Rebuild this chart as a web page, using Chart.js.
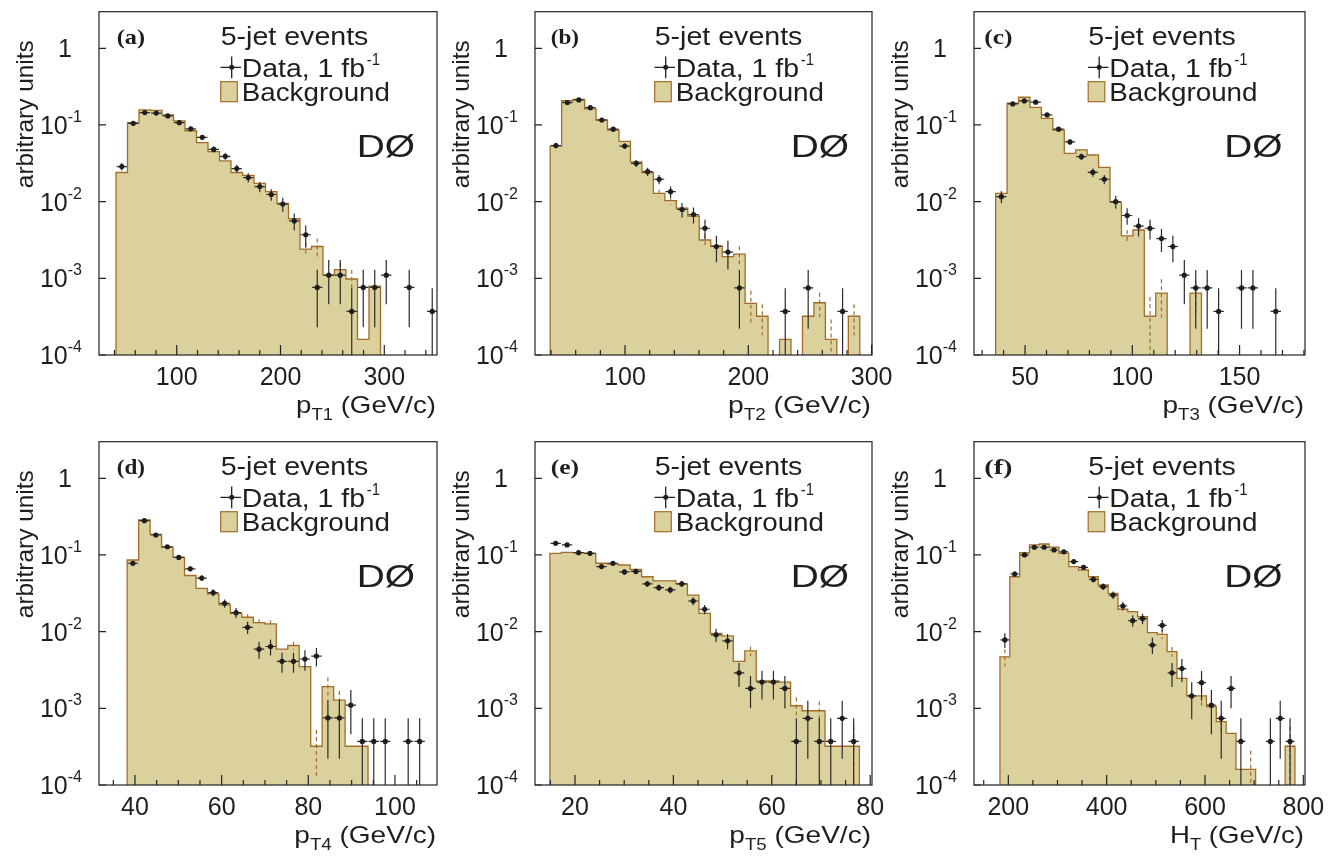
<!DOCTYPE html>
<html><head><meta charset="utf-8">
<script src="https://cdn.jsdelivr.net/npm/chart.js@4.4.1/dist/chart.umd.min.js"></script>
<style>
html,body{margin:0;padding:0;background:#fff;}
#wrap{position:relative;width:1340px;height:857px;overflow:hidden;}
#wrap canvas{position:absolute;left:0;top:0;}
</style></head>
<body><div id="wrap"></div>
<script>
// ---------------- DATA ----------------
const yTickValues = [1e-4, 1e-3, 1e-2, 1e-1, 1];
const yTickExponents = ["-4", "-3", "-2", "-1", ""];
const legendTitle = "5-jet events";
const legendData = "Data, 1 fb";
const legendDataSup = "-1";
const legendBackground = "Background";
const experimentLabel = "DØ";
const yAxisTitle = "arbitrary units";

// (a) leading jet pT
const aBinLo = 41.5, aBinW = 11.08;
const aBackground = [0.024,0.107,0.157,0.155,0.135,0.113,0.084,0.059,0.045,0.034,0.024,0.022,0.0173,0.0135,0.0095,0.0060,0.0024,0.0026,0.0011,0.0013,0.00098,0.00016,0.00079,0,0,0,0,0];
const aBackgroundErr = [null,null,null,null,null,null,null,null,null,null,null,null,null,null,null,null,0.0005,0.0007,null,0.0003,0.0003,null,null,null,null,null,null,null];
const aData = [0.0287,0.105,0.145,0.143,0.131,0.107,0.089,0.069,0.048,0.039,0.027,0.0206,0.0157,0.0124,0.0093,0.0056,0.0037,0.00076,0.0011,0.0011,0.00037,0.00076,0.00076,0.0011,null,0.00076,null,0.00037];
const aDataErr = [0.0033,0.0062,0.0073,0.0073,0.007,0.0063,0.0057,0.0051,0.0042,0.0038,0.0032,0.0028,0.0024,0.0021,0.0019,0.0014,0.0012,0.00053,0.00064,0.00064,0.00037,0.00053,0.00053,0.00064,null,0.00053,null,0.00037];
const aMajorTicks = [100,200,300];
const aMinorTicks = [40,60,80,120,140,160,180,220,240,260,280,320,340];

// (b) second jet pT
const bBinLo = 39.3, bBinW = 9.3;
const bBackground = [0.053,0.207,0.216,0.162,0.116,0.086,0.061,0.033,0.0239,0.0128,0.0103,0.0082,0.0065,0.00316,0.00264,0.00192,0.00207,0.00047,0.00032,0,0.00016,0,0.00032,0.00048,0.00016,0,0.00032,0];
const bBackgroundErr = [null,null,null,null,null,null,null,null,null,0.0015,0.0012,null,null,0.0006,null,null,0.00055,0.00022,0.00014,null,null,null,null,0.00017,0.00013,null,0.00014,null];
const bData = [0.054,0.196,0.212,0.168,0.116,0.088,0.053,0.0316,0.0246,0.0196,0.0135,0.0079,0.0068,0.0045,0.0026,0.0022,0.00075,null,null,null,0.00037,null,0.00075,null,null,0.00037,null,null];
const bDataErr = [0.0045,0.0085,0.0089,0.0079,0.0066,0.0057,0.0044,0.0034,0.003,0.0027,0.0022,0.0017,0.0016,0.0013,0.00098,0.0009,0.00053,null,null,null,0.00037,null,0.00053,null,null,0.00037,null,null];
const bMajorTicks = [100,200,300];
const bMinorTicks = [40,60,80,120,140,160,180,220,240,260,280];

// (c) third jet pT
const cBinLo = 36.3, cBinW = 5.33;
const cBackground = [0.0128,0.192,0.230,0.170,0.122,0.086,0.0427,0.0472,0.0406,0.028,0.0098,0.00357,0.00427,0.00032,0.00064,0,0,0.00064,0,0,0,0,0,0,0,0,0];
const cBackgroundErr = [null,null,null,null,null,null,null,null,null,null,null,0.0007,null,0.00025,0.00033,null,null,0.0003,null,null,null,null,null,null,null,null,null];
const cData = [0.0116,0.188,0.206,0.198,0.135,0.088,0.060,0.0386,0.0241,0.0196,0.0100,0.0066,0.0048,0.0045,0.0033,0.0026,0.0011,0.00075,0.00075,0.00037,null,0.00075,0.00075,null,0.00037,null,null];
const cDataErr = [0.0021,0.0084,0.0087,0.0086,0.0071,0.0057,0.0047,0.0038,0.003,0.0027,0.0019,0.0016,0.0013,0.0013,0.0011,0.00098,0.00064,0.00053,0.00053,0.00037,null,0.00053,0.00053,null,0.00037,null,null];
const cMajorTicks = [50,100,150];
const cMinorTicks = [30,40,60,70,80,90,110,120,130,140,160,170,180];

// (d) fourth jet pT
const dBinLo = 38.2, dBinW = 2.647;
const dBackground = [0.086,0.286,0.186,0.126,0.093,0.054,0.0367,0.031,0.0223,0.0173,0.0154,0.0131,0.0126,0.0059,0.0066,0.0035,0.00032,0.00192,0.00128,0.00032,0.00032,0,0,0,0,0,0];
const dBackgroundErr = [null,null,null,null,null,null,null,null,null,null,0.0015,0.0014,0.0014,null,0.0008,null,0.0002,0.0006,0.0004,null,null,null,null,null,null,null,null];
const dData = [0.078,0.280,0.182,0.128,0.093,0.066,0.050,0.0323,0.0234,0.0177,0.0114,0.0059,0.0064,0.0041,0.0041,0.0044,0.0048,0.00075,0.00075,0.0011,0.00037,0.00037,0.00037,null,0.00037,0.00037,null];
const dDataErr = [0.0054,0.0102,0.0082,0.0069,0.0059,0.0049,0.0043,0.0035,0.0029,0.0026,0.0021,0.0015,0.0015,0.0012,0.0012,0.0013,0.0013,0.00053,0.00053,0.00064,0.00037,0.00037,0.00037,null,0.00037,0.00037,null];
const dMajorTicks = [40,60,80,100];
const dMinorTicks = [35,45,50,55,65,70,75,85,90,95,105];

// (e) fifth jet pT
const eBinLo = 14.9, eBinW = 2.33;
const eBackground = [0.105,0.108,0.107,0.105,0.078,0.076,0.074,0.065,0.052,0.046,0.046,0.042,0.030,0.0173,0.0095,0.0088,0.0041,0.0056,0.00227,0.00227,0.0022,0.00108,0.00093,0.00093,0.00032,0.00032,0.00032,0];
const eBackgroundErr = [null,null,null,null,null,null,null,null,null,null,null,null,null,null,null,null,null,0.0008,null,null,null,0.0003,null,0.0003,null,null,0.00025,null];
const eData = [0.142,0.135,0.107,0.105,0.0705,0.078,0.060,0.061,0.042,0.0375,0.035,0.042,0.0251,0.0196,0.0091,0.0076,0.0029,0.00182,0.0022,0.0022,0.00182,0.00037,0.00074,0.00037,0.00037,0.00074,0.00037,null];
const eDataErr = [0.0073,0.0071,0.0063,0.0062,0.0051,0.0054,0.0047,0.0048,0.0039,0.0037,0.0036,0.0039,0.003,0.0027,0.0018,0.0017,0.001,0.00082,0.0009,0.0009,0.00082,0.00037,0.00052,0.00037,0.00037,0.00052,0.00037,null];
const eMajorTicks = [20,40,60,80];
const eMinorTicks = [15,25,30,35,45,50,55,65,70,75];

// (f) HT
const fBinLo = 183, fBinW = 20;
const fBackground = [0.0047,0.052,0.107,0.135,0.139,0.126,0.105,0.0705,0.0637,0.052,0.0406,0.0316,0.0196,0.0182,0.0157,0.0097,0.0092,0.0055,0.00246,0.00145,0.00145,0.00105,0.00067,0.00047,0.00016,0.00016,0,0,0,0.00032];
const fBackgroundErr = [0.0012,null,null,null,null,null,null,null,null,null,null,null,null,null,null,null,0.0012,0.0008,null,null,0.0004,null,0.00018,null,null,0.00012,null,null,null,0.00025];
const fData = [0.0078,0.0565,0.100,0.126,0.126,0.116,0.110,0.0819,0.069,0.048,0.0386,0.030,0.0216,0.0139,0.0148,0.0067,0.0121,0.0029,0.0033,0.00145,0.00216,0.0011,0.00074,0.00182,0.00037,null,null,0.00037,0.00074,0.00037];
const fDataErr = [0.0017,0.0046,0.0061,0.0068,0.0068,0.0066,0.0064,0.0055,0.0051,0.0042,0.0038,0.0033,0.0028,0.0023,0.0023,0.0016,0.0021,0.001,0.0011,0.00073,0.0009,0.00064,0.00052,0.00082,0.00037,null,null,0.00037,0.00052,0.00037];
const fMajorTicks = [200,400,600,800];
const fMinorTicks = [150,250,300,350,450,500,550,650,700,750];

// ---------------- LAYOUT / STYLE ----------------
const SANS = '"Liberation Sans", Arial, Helvetica, sans-serif';
const SERIF = '"Liberation Serif", "DejaVu Serif", serif';
const FILL = '#dbd19d';
const EDGE = '#a46c2a';
const INK = '#1e1e1e';

const panels = [
  {tag:'(a)', bg:aBackground, bgErr:aBackgroundErr, data:aData, err:aDataErr, lo:aBinLo, w:aBinW, xMin:25.1, xMax:350.8, major:aMajorTicks, minor:aMinorTicks, xt:['p','T1',' (GeV/c)'], xtW:140, frame:{l:99,r:437,t:11.7,b:355}, dx:0, dy:0},
  {tag:'(b)', bg:bBackground, bgErr:bBackgroundErr, data:bData, err:bDataErr, lo:bBinLo, w:bBinW, xMin:27.0, xMax:300.3, major:bMajorTicks, minor:bMinorTicks, xt:['p','T2',' (GeV/c)'], xtW:143, frame:{l:535,r:872,t:11.7,b:355}, dx:434, dy:0},
  {tag:'(c)', bg:cBackground, bgErr:cBackgroundErr, data:cData, err:cDataErr, lo:cBinLo, w:cBinW, xMin:26.2, xMax:180.5, major:cMajorTicks, minor:cMinorTicks, xt:['p','T3',' (GeV/c)'], xtW:141.6, frame:{l:974,r:1305,t:11.7,b:355}, dx:867.5, dy:0},
  {tag:'(d)', bg:dBackground, bgErr:dBackgroundErr, data:dData, err:dDataErr, lo:dBinLo, w:dBinW, xMin:31.7, xMax:109.7, major:dMajorTicks, minor:dMinorTicks, xt:['p','T4',' (GeV/c)'], xtW:141.7, frame:{l:99,r:437,t:441.7,b:785}, dx:0, dy:430},
  {tag:'(e)', bg:eBackground, bgErr:eBackgroundErr, data:eData, err:eDataErr, lo:eBinLo, w:eBinW, xMin:11.87, xMax:80.37, major:eMajorTicks, minor:eMinorTicks, xt:['p','T5',' (GeV/c)'], xtW:141.7, frame:{l:535,r:872,t:441.7,b:785}, dx:434, dy:430},
  {tag:'(f)', bg:fBackground, bgErr:fBackgroundErr, data:fData, err:fDataErr, lo:fBinLo, w:fBinW, xMin:130.2, xMax:803.4, major:fMajorTicks, minor:fMinorTicks, xt:['H','T',' (GeV/c)'], xtW:134, frame:{l:974,r:1305,t:441.7,b:785}, dx:867.5, dy:430}
];

// draw a run of text parts, optionally stretched horizontally to a target width
function drawParts(ctx, parts, x, y, align, targetW) {
  let total = 0;
  parts.forEach(p => { ctx.font = p.font; p.mw = ctx.measureText(p.t).width; total += p.mw; });
  const sx = targetW ? targetW / total : 1;
  let x0 = x;
  if (align === 'right') x0 = x - total * sx;
  else if (align === 'center') x0 = x - total * sx / 2;
  ctx.save();
  ctx.translate(x0, y);
  ctx.scale(sx, 1);
  ctx.textAlign = 'left';
  ctx.textBaseline = 'alphabetic';
  let cx = 0;
  parts.forEach(p => { ctx.font = p.font; ctx.fillStyle = p.color || INK; ctx.fillText(p.t, cx, p.dy || 0); cx += p.mw; });
  ctx.restore();
}

const errorBarPlugin = {
  id: 'errorBars',
  afterDatasetDraw(chart, args) {
    if (args.index !== 0) return;
    const p = chart.config.options.panel;
    const xs = chart.scales.x, ys = chart.scales.y, ca = chart.chartArea;
    const ctx = chart.ctx;
    ctx.save();
    ctx.beginPath(); ctx.rect(ca.left, ca.top, ca.right - ca.left, ca.bottom - ca.top); ctx.clip();
    // background uncertainty (dashed)
    ctx.strokeStyle = EDGE; ctx.lineWidth = 1.2; ctx.setLineDash([4, 3]);
    p.bg.forEach((v, i) => {
      const e = p.bgErr[i];
      if (!e || !(v > 0)) return;
      const c = p.lo + (i + 0.5) * p.w;
      const px = xs.getPixelForValue(c);
      const top = ys.getPixelForValue(v + e);
      const bot = (v - e) > ys.min * 1.0001 ? ys.getPixelForValue(v - e) : ca.bottom;
      ctx.beginPath(); ctx.moveTo(px, top); ctx.lineTo(px, bot); ctx.stroke();
    });
    ctx.setLineDash([]);
    // data error bars
    ctx.strokeStyle = '#2a2a2a'; ctx.lineWidth = 1.2;
    p.data.forEach((v, i) => {
      if (v == null) return;
      const c = p.lo + (i + 0.5) * p.w;
      const e = p.err[i] || 0;
      const px = xs.getPixelForValue(c), py = ys.getPixelForValue(v);
      const top = ys.getPixelForValue(v + e);
      const bot = (v - e) > ys.min * 1.0001 ? ys.getPixelForValue(v - e) : ca.bottom;
      ctx.beginPath();
      ctx.moveTo(px, top); ctx.lineTo(px, bot);
      ctx.moveTo(xs.getPixelForValue(c - 0.45 * p.w), py); ctx.lineTo(xs.getPixelForValue(c + 0.45 * p.w), py);
      ctx.stroke();
    });
    ctx.restore();
  }
};

const decorPlugin = {
  id: 'decor',
  afterDraw(chart) {
    const p = chart.config.options.panel;
    const xs = chart.scales.x, ys = chart.scales.y, ca = chart.chartArea;
    const ctx = chart.ctx;
    ctx.save();
    // frame
    ctx.strokeStyle = '#222'; ctx.lineWidth = 1.2;
    ctx.strokeRect(ca.left, ca.top, ca.right - ca.left, ca.bottom - ca.top);
    // x ticks (inside)
    ctx.beginPath();
    p.major.forEach(t => { const x = xs.getPixelForValue(t); if (x < ca.left - 0.5 || x > ca.right + 0.5) return; ctx.moveTo(x, ca.bottom); ctx.lineTo(x, ca.bottom - 10); });
    p.minor.forEach(t => { const x = xs.getPixelForValue(t); if (x < ca.left - 0.5 || x > ca.right + 0.5) return; ctx.moveTo(x, ca.bottom); ctx.lineTo(x, ca.bottom - 5); });
    // y ticks (inside, decades)
    yTickValues.forEach(v => { const y = ys.getPixelForValue(v); ctx.moveTo(ca.left, y); ctx.lineTo(ca.left + 7, y); });
    ctx.stroke();
    // x tick labels
    p.major.forEach(t => {
      const x = xs.getPixelForValue(t);
      drawParts(ctx, [{t: String(t), font: '25px ' + SANS}], x, ca.bottom + 30, 'center');
    });
    // y tick labels
    yTickValues.forEach((v, i) => {
      const y = ys.getPixelForValue(v);
      if (yTickExponents[i] === '') {
        drawParts(ctx, [{t: '1', font: '25px ' + SANS}], ca.left - 27, y + 9, 'right');
      } else {
        drawParts(ctx, [{t: '10', font: '25px ' + SANS}, {t: yTickExponents[i], font: '16px ' + SANS, dy: -12}], ca.left - 17, y + 9, 'right');
      }
    });
    // y axis title (rotated)
    ctx.save();
    ctx.translate(ca.left - 66, ca.top + 28.5);
    ctx.rotate(-Math.PI / 2);
    drawParts(ctx, [{t: yAxisTitle, font: '24.5px ' + SANS}], 0, 0, 'right', 148);
    ctx.restore();
    // x axis title
    drawParts(ctx, [{t: p.xt[0], font: '24px ' + SANS}, {t: p.xt[1], font: '16px ' + SANS, dy: 7}, {t: p.xt[2], font: '24px ' + SANS}], ca.right - 1, ca.bottom + 58, 'right', p.xtW);
    // panel tag
    const dx = p.dx, dy = p.dy;
    drawParts(ctx, [{t: p.tag, font: 'bold 22px ' + SERIF}], 116.7 + dx, 43.5 + dy, 'left', 28.3);
    // legend
    drawParts(ctx, [{t: legendTitle, font: '26px ' + SANS}], 220.7 + dx, 45 + dy, 'left', 147.7);
    ctx.strokeStyle = '#222'; ctx.lineWidth = 1.3;
    ctx.beginPath();
    ctx.moveTo(231.7 + dx, 56.5 + dy); ctx.lineTo(231.7 + dx, 78.3 + dy);
    ctx.moveTo(220.5 + dx, 67.3 + dy); ctx.lineTo(241 + dx, 67.3 + dy);
    ctx.stroke();
    ctx.fillStyle = INK; ctx.beginPath(); ctx.arc(231.7 + dx, 67.3 + dy, 2.5, 0, Math.PI * 2); ctx.fill();
    drawParts(ctx, [{t: legendData, font: '26px ' + SANS}], 241.7 + dx, 76.7 + dy, 'left', 123.3);
    drawParts(ctx, [{t: legendDataSup, font: '16px ' + SANS}], 366.7 + dx, 65 + dy, 'left', 13.3);
    ctx.fillStyle = FILL; ctx.fillRect(220.7 + dx, 81.7 + dy, 16.6, 20);
    ctx.strokeStyle = EDGE; ctx.lineWidth = 1.2; ctx.strokeRect(220.7 + dx, 81.7 + dy, 16.6, 20);
    drawParts(ctx, [{t: legendBackground, font: '26px ' + SANS}], 241.7 + dx, 100.7 + dy, 'left', 148.3);
    drawParts(ctx, [{t: experimentLabel, font: '32px ' + SANS}], 356.7 + dx, 156.7 + dy, 'left', 58.3);
    ctx.restore();
  }
};

const wrap = document.getElementById('wrap');
const FLOOR = 1e-7;
panels.forEach(p => {
  const cv = document.createElement('canvas');
  cv.width = 1340; cv.height = 857;
  cv.style.width = '1340px'; cv.style.height = '857px';
  wrap.appendChild(cv);
  const n = p.bg.length;
  const step = [{x: p.lo, y: FLOOR}];
  for (let i = 0; i < n; i++) {
    const a = p.lo + i * p.w, b = a + p.w;
    const v = p.bg[i] > 0 ? p.bg[i] : FLOOR;
    step.push({x: a, y: v}, {x: b, y: v});
  }
  step.push({x: p.lo + n * p.w, y: FLOOR});
  const pts = [];
  p.data.forEach((v, i) => { if (v != null) pts.push({x: p.lo + (i + 0.5) * p.w, y: v}); });
  new Chart(cv, {
    type: 'scatter',
    data: {datasets: [
      {type: 'line', data: step, borderColor: EDGE, borderWidth: 1.3, backgroundColor: FILL, fill: 'start', pointRadius: 0, tension: 0, order: 2},
      {type: 'scatter', data: pts, pointRadius: 2.6, pointBackgroundColor: INK, pointBorderWidth: 0, order: 1}
    ]},
    options: {
      panel: p,
      responsive: false, animation: false, events: [],
      layout: {padding: {left: p.frame.l, right: 1340 - p.frame.r, top: p.frame.t, bottom: 857 - p.frame.b}},
      scales: {
        x: {type: 'linear', min: p.xMin, max: p.xMax, display: false},
        y: {type: 'logarithmic', min: 1e-4, max: 3, display: false}
      },
      plugins: {legend: {display: false}, tooltip: {enabled: false}}
    },
    plugins: [errorBarPlugin, decorPlugin]
  });
});
</script>
</body></html>
